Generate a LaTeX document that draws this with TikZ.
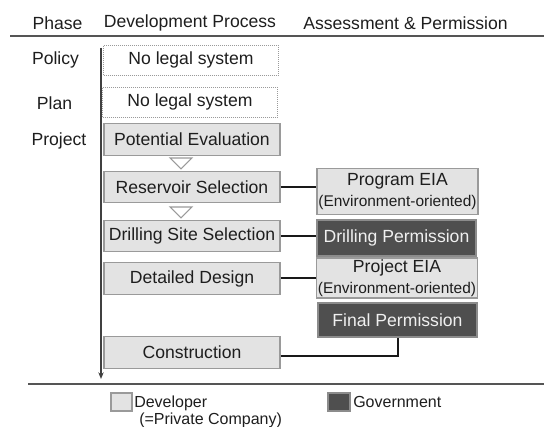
\documentclass[tikz,border=0pt]{standalone}
\usepackage{fontspec}
\setmainfont{Liberation Sans}
\usepackage{tikz}
\usetikzlibrary{arrows.meta}

\definecolor{devfill}{HTML}{E3E3E3}
\definecolor{devline}{HTML}{9A9A9A}
\definecolor{govfill}{HTML}{4F4F4F}
\definecolor{govline}{HTML}{8C8C8C}
\definecolor{ink}{HTML}{1E1E1E}
\definecolor{rulegray}{HTML}{555555}

\newcommand{\mainsize}{\fontsize{13.2}{16}\selectfont}
\newcommand{\notesize}{\fontsize{11.6}{12}\selectfont}

\begin{document}
\begin{tikzpicture}[x=0.75pt, y=-0.75pt,
    every node/.style={text=ink, font=\mainsize},
    devbox/.style={draw=devline, line width=0.8pt, fill=devfill, minimum width=132pt, minimum height=23.5pt, inner sep=2pt},
    nolaw/.style={draw=devline, line width=0.6pt, dash pattern=on 0.6pt off 0.9pt, fill=white, minimum width=131pt, minimum height=22.5pt},
    assess/.style={draw=devline, line width=0.8pt, fill=devfill, minimum width=120.75pt, align=center, inner sep=1pt},
    govbox/.style={draw=govline, line width=1.5pt, fill=govfill, text=white!94!black, minimum width=119.5pt, inner sep=2pt},
    link/.style={draw=black!90, line width=1.5pt},
    flowtri/.style={draw=devline, line width=0.8pt, fill=white},
    rule/.style={draw=rulegray, line width=1.4pt},
    phase/.style={inner sep=0pt}]
  \useasboundingbox (0,0) rectangle (544,427);

  % column heads
  \node[phase] (hphase) at (57.5,23) {Phase};
  \node[phase] (hdev) at (190,23) {Development Process};
  \node[phase] (hassess) at (405.5,23) {Assessment \& Permission};
  \draw[rule] (10,36) -- (544,36);

  % phases
  \node[phase] (policy) at (55.5,60) {Policy};
  \node[phase] (plan) at (54.5,103) {Plan};
  \node[phase] (project) at (59,141) {Project};

  % time axis
  \coordinate (tstart) at (101,48);
  \coordinate (tend) at (101,379);
  \draw[draw=black!75, line width=0.8pt, -{Stealth[length=5pt, width=4pt]}] (tstart) -- (tend);

  % development process
  \node[nolaw] (pollaw) at (191,60) {No legal system};
  \node[nolaw] (planlaw) at (190,102) {No legal system};
  \node[devbox] (potential) at (192,139.5) {Potential Evaluation};
  \node[devbox] (reservoir) at (192,187) {Reservoir Selection};
  \node[devbox] (drillsite) at (192,236) {Drilling Site Selection};
  \node[devbox] (design) at (192,278.5) {Detailed Design};
  \node[devbox] (construct) at (192,352.5) {Construction};

  \draw[flowtri] (170,158) -- ++(22,0) -- ++(-11,11) -- cycle;
  \draw[flowtri] (170,207) -- ++(22,0) -- ++(-11,11) -- cycle;

  % assessment and permission
  \node[assess, minimum height=35pt] (progeia) at (397.5,191.5)
    {Program EIA\\{\notesize(Environment-oriented)}};
  \node[govbox, minimum height=27pt] (drillperm) at (396.5,238) {Drilling Permission};
  \node[assess, minimum height=30pt] (projeia) at (397,278)
    {Project EIA\\{\notesize(Environment-oriented)}};
  \node[govbox, minimum height=25.5pt] (finalperm) at (397.5,320.5) {Final Permission};

  \draw[link] (reservoir.east) -- (reservoir.east -| progeia.west);
  \draw[link] (drillsite.east) -- (drillsite.east -| drillperm.west);
  \draw[link] (design.east) -- (design.east -| projeia.west);
  \draw[link] ([yshift=-3pt]construct.east) -| (finalperm.south);

  % legend
  \draw[rule] (28,384) -- (544,384);
  \node[devbox, minimum width=15.75pt, minimum height=13.5pt] (legdev) at (121.5,402) {};
  \node[phase, anchor=west, font=\fontsize{12}{14}\selectfont] (legdevtxt) at (134,403) {Developer};
  \node[phase, anchor=west, font=\fontsize{12}{14}\selectfont] (legdevsub) at (139,420) {(=Private Company)};
  \node[govbox, minimum width=16.5pt, minimum height=13.5pt] (leggov) at (339,402) {};
  \node[phase, anchor=west, font=\fontsize{12}{14}\selectfont] (leggovtxt) at (353,402) {Government};
\end{tikzpicture}
\end{document}
